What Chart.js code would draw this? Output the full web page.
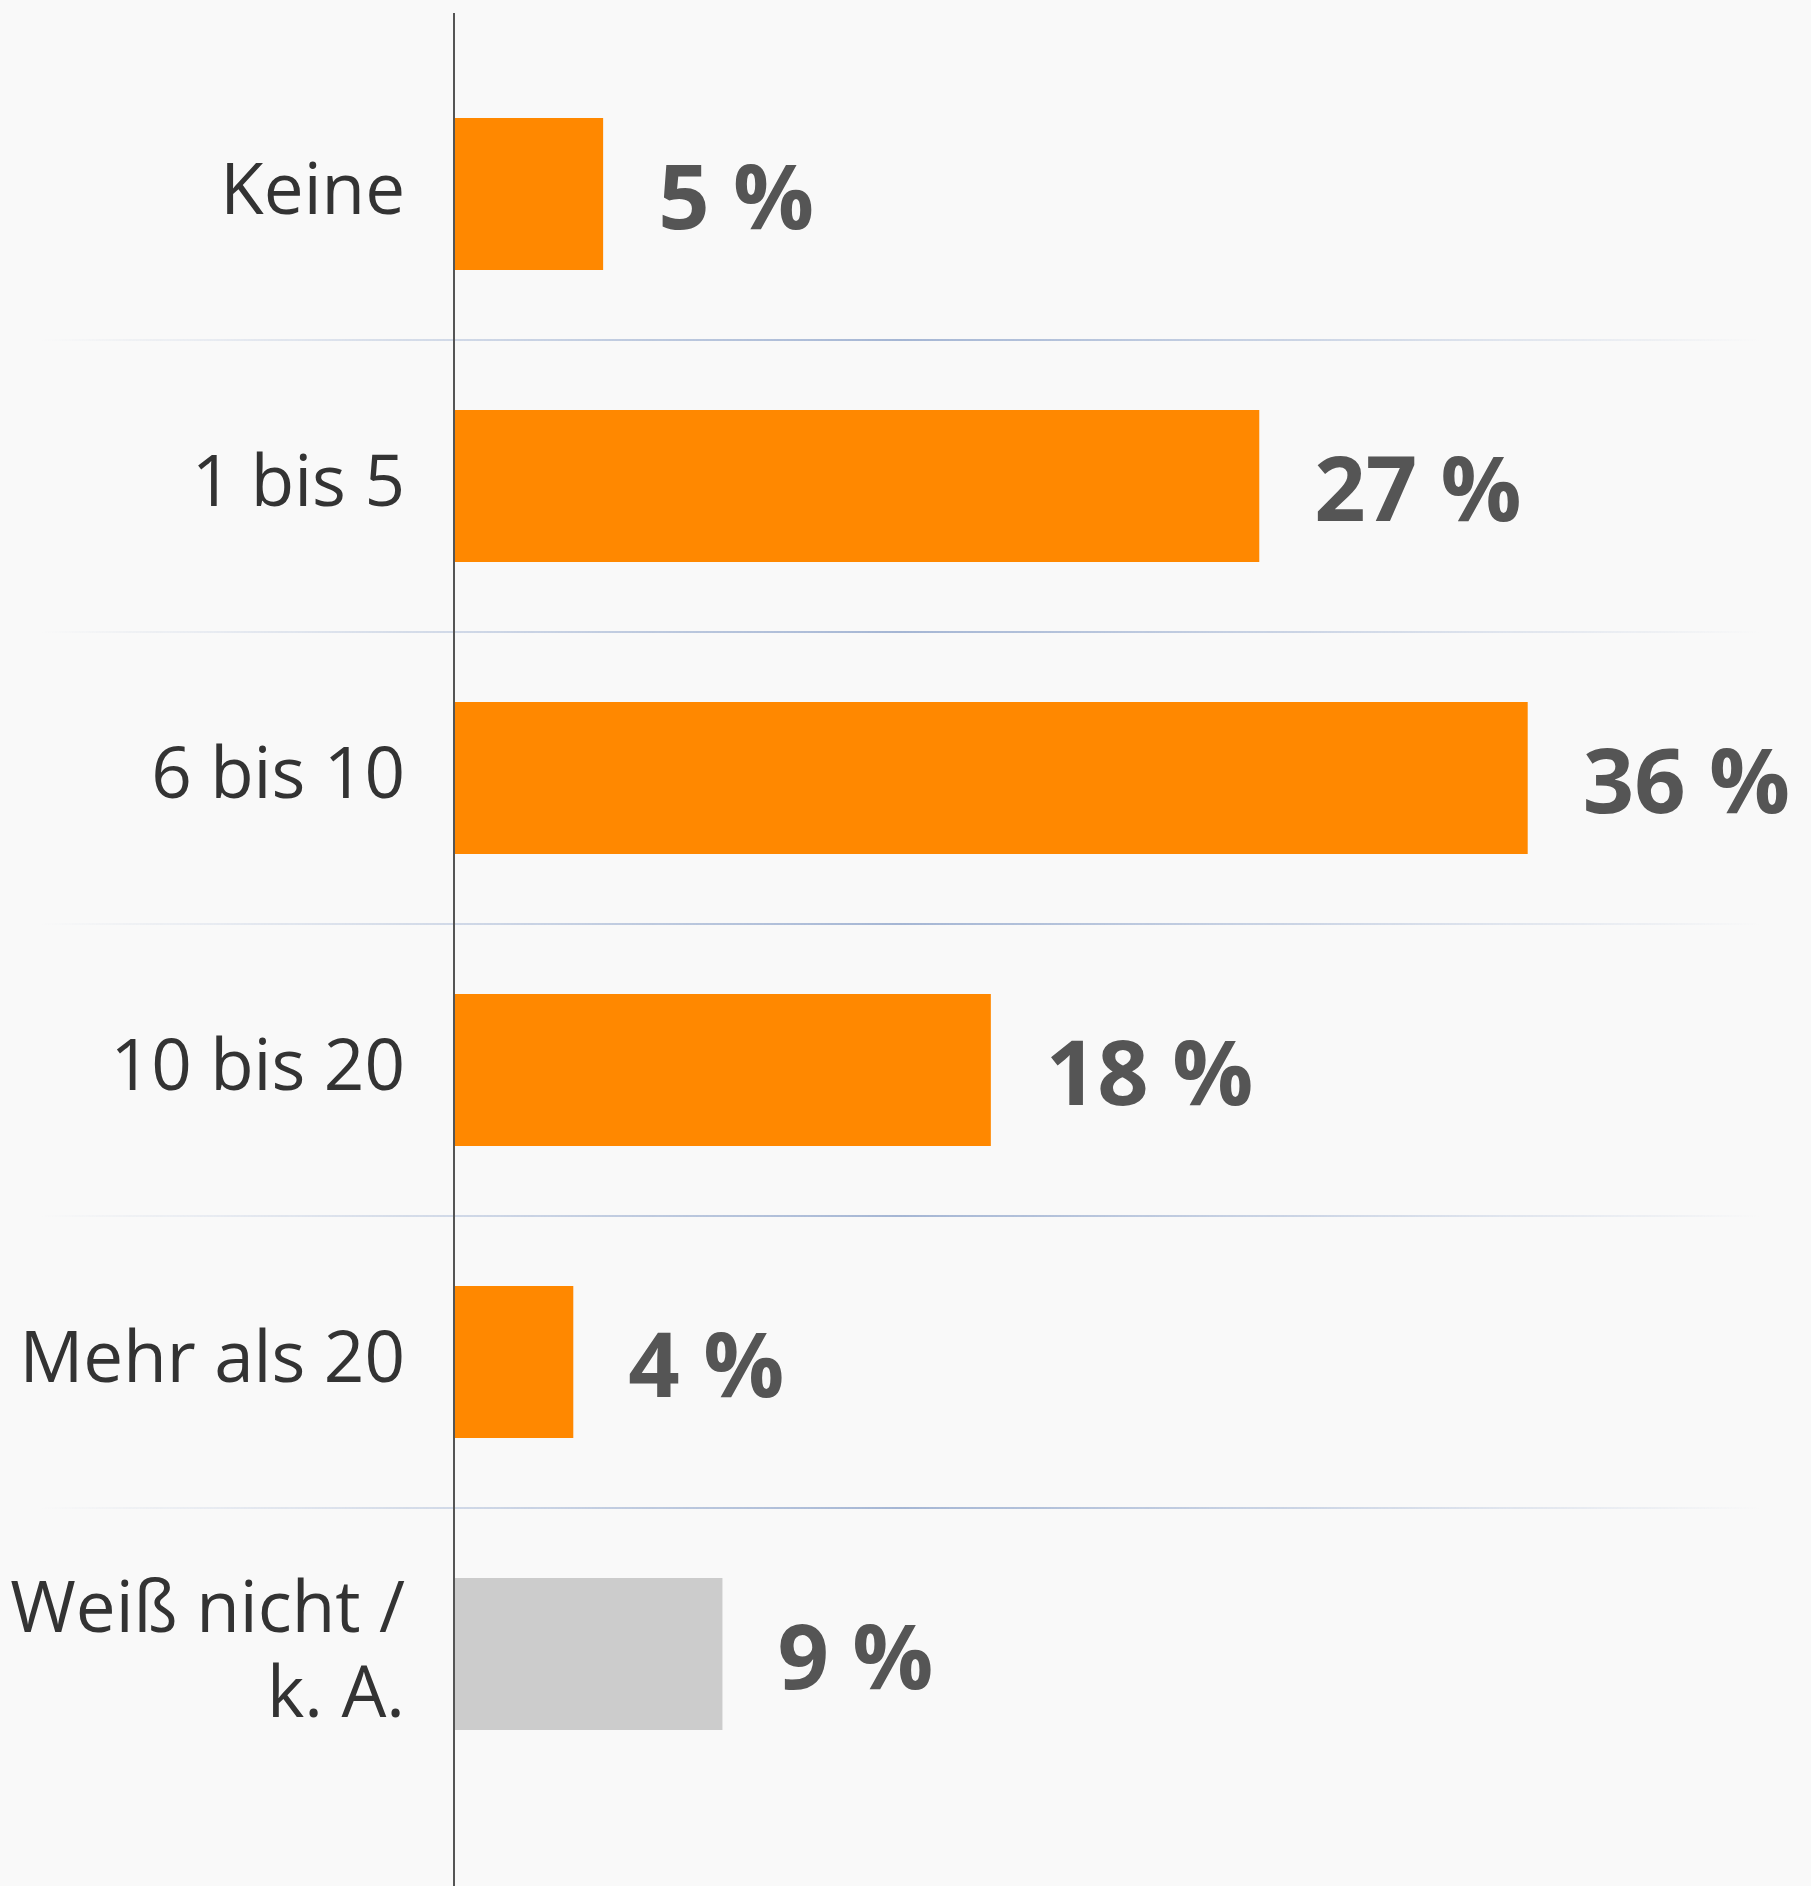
<!DOCTYPE html>
<html lang="de">
<head>
<meta charset="utf-8">
<title>Umfrage</title>
<script src="https://cdn.jsdelivr.net/npm/chart.js"></script>
<style>
    html, body { margin: 0; padding: 0; background: #f9f9f9; }
    #contenedor { width: 1811px; height: 1886px; position: relative; }
</style>
</head>
<body>
<div id="contenedor">
    <canvas id="grafico"></canvas>
</div>
<script>
const categorias = ['Keine', '1 bis 5', '6 bis 10', '10 bis 20', 'Mehr als 20', ['Weiß nicht /', 'k. A.']];
const valores = [5, 27, 36, 18, 4, 9];

const naranja = '#ff8800';
const gris = '#cccccc';
const fuente = "'Open Sans', 'Noto Sans', sans-serif";

// Lineas de fondo, eje vertical y etiquetas de valor
const extras = {
    id: 'extras',
    beforeDatasetsDraw(chart) {
        const ctx = chart.ctx;
        const y = chart.scales.y;
        const ancho = chart.width;
        const grad = ctx.createLinearGradient(40, 0, ancho - 50, 0);
        grad.addColorStop(0, 'rgba(165,182,212,0)');
        grad.addColorStop(0.5, 'rgba(165,182,212,1)');
        grad.addColorStop(1, 'rgba(165,182,212,0)');
        ctx.save();
        ctx.strokeStyle = grad;
        ctx.lineWidth = 2;
        for (let i = 0; i < categorias.length - 1; i++) {
            const py = Math.round((y.getPixelForTick(i) + y.getPixelForTick(i + 1)) / 2);
            ctx.beginPath();
            ctx.moveTo(0, py);
            ctx.lineTo(ancho, py);
            ctx.stroke();
        }
        ctx.restore();
    },
    afterDatasetsDraw(chart) {
        const ctx = chart.ctx;
        const x0 = chart.scales.x.getPixelForValue(0);
        ctx.save();
        ctx.strokeStyle = '#555555';
        ctx.lineWidth = 2;
        ctx.beginPath();
        ctx.moveTo(x0, 13);
        ctx.lineTo(x0, chart.height);
        ctx.stroke();

        ctx.fillStyle = '#555555';
        ctx.font = 'bold 90px ' + fuente;
        ctx.textAlign = 'left';
        ctx.textBaseline = 'alphabetic';
        chart.getDatasetMeta(0).data.forEach((barra, i) => {
            ctx.fillText(valores[i] + ' %', barra.x + 55, barra.y + 35);
        });
        ctx.restore();
    }
};

new Chart(document.getElementById('grafico'), {
    type: 'bar',
    data: {
        labels: categorias,
        datasets: [{
            data: valores,
            backgroundColor: c => c.dataIndex === categorias.length - 1 ? gris : naranja,
            borderWidth: 0,
            categoryPercentage: 1,
            barPercentage: 0.52
        }]
    },
    options: {
        indexAxis: 'y',
        responsive: true,
        maintainAspectRatio: false,
        animation: false,
        layout: {
            padding: { top: 48, bottom: 86, right: 164, left: 0 }
        },
        plugins: {
            legend: { display: false },
            tooltip: { enabled: false }
        },
        scales: {
            x: {
                display: false,
                min: 0,
                max: 40
            },
            y: {
                afterFit: scale => {
                    scale.width = 454;
                    scale.paddingTop = 0;
                    scale.paddingBottom = 0;
                },
                grid: { display: false, drawTicks: false },
                border: { display: false },
                ticks: {
                    color: '#333333',
                    padding: 49,
                    font: { family: fuente, size: 71, lineHeight: 1.2 }
                }
            }
        }
    },
    plugins: [extras]
});
</script>
</body>
</html>
